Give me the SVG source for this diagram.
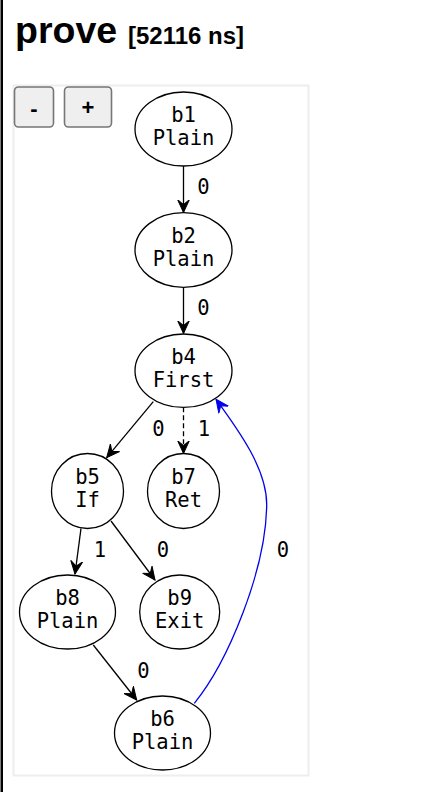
<svg xmlns="http://www.w3.org/2000/svg" width="434" height="792" viewBox="0 0 434 792">
<style>
.title{font-family:"Liberation Sans",Arial,sans-serif;font-weight:bold;fill:#000}
.btn rect{fill:#efefef;stroke:#767676;stroke-width:1.6}
.btn text{font-family:"Liberation Sans",Arial,sans-serif;font-weight:bold;font-size:22px;text-anchor:middle;fill:#000}
.node ellipse{fill:#fff;stroke:#000;stroke-width:1.3}
.node text,.lbl{font-family:"DejaVu Sans Mono",monospace;font-size:20.5px;text-anchor:middle;fill:#000}
.edge{fill:none;stroke:#000;stroke-width:1.3}
.back{fill:none;stroke:#0000ee;stroke-width:1.3}
</style>
<defs>
<marker id="ah" markerUnits="userSpaceOnUse" markerWidth="16" markerHeight="14" refX="13" refY="7" orient="auto" viewBox="0 0 16 14">
<path d="M0,1 L13,7 L0,13 L5,7 Z" fill="#000" stroke="#000" stroke-width="1"/>
</marker>
<marker id="ahb" markerUnits="userSpaceOnUse" markerWidth="16" markerHeight="14" refX="13" refY="7" orient="auto" viewBox="0 0 16 14">
<path d="M0,1 L13,7 L0,13 L5,7 Z" fill="#0000ee" stroke="#0000ee" stroke-width="1"/>
</marker>
</defs>
<rect x="0" y="0" width="434" height="792" fill="#fff"/>
<rect x="0.5" y="0" width="2.5" height="792" fill="#000"/>
<text class="title" x="15" y="43" font-size="37.5">prove</text>
<text class="title" x="128" y="44" font-size="24">[52116 ns]</text>
<rect x="13.5" y="85.5" width="295" height="690" fill="#fff" stroke="#eeeeee" stroke-width="2"/>
<g id="btn-minus" class="btn"><rect x="14.5" y="87" width="39" height="40" rx="4"/><text x="34" y="116">-</text></g>
<g id="btn-plus" class="btn"><rect x="64.5" y="87" width="47" height="40" rx="4"/><text x="88" y="115">+</text></g>
<g id="edges">
<line class="edge" x1="183.5" y1="166" x2="183.5" y2="212.5" marker-end="url(#ah)"/>
<line class="edge" x1="183.5" y1="287.3" x2="183.5" y2="333.5" marker-end="url(#ah)"/>
<line class="edge" x1="153.3" y1="401.7" x2="106.7" y2="457.7" marker-end="url(#ah)"/>
<line class="edge" x1="183.5" y1="407.3" x2="183.5" y2="453.5" stroke-dasharray="5,3" marker-end="url(#ah)"/>
<line class="edge" x1="81" y1="528.3" x2="75" y2="574" marker-end="url(#ah)"/>
<line class="edge" x1="111" y1="521" x2="155" y2="580" marker-end="url(#ah)"/>
<line class="edge" x1="93.3" y1="645" x2="136.7" y2="700" marker-end="url(#ah)"/>
<path class="back" d="M194.3,703.3 C228,662 266,570 266.7,505 C267,470 240,432 216,399.3" marker-end="url(#ahb)"/>
<text class="lbl" x="203.5" y="194">0</text>
<text class="lbl" x="203.5" y="315">0</text>
<text class="lbl" x="158.5" y="436">0</text>
<text class="lbl" x="204" y="436">1</text>
<text class="lbl" x="100" y="556.5">1</text>
<text class="lbl" x="163" y="556.5">0</text>
<text class="lbl" x="283" y="556.5">0</text>
<text class="lbl" x="143.5" y="677.5">0</text>
</g>
<g id="b1" class="node"><ellipse cx="183.5" cy="129" rx="48.5" ry="37"/><text x="183.5" y="122.3">b1</text><text x="183.5" y="145.3">Plain</text></g>
<g id="b2" class="node"><ellipse cx="183.5" cy="250" rx="48.5" ry="37.3"/><text x="183.5" y="243.3">b2</text><text x="183.5" y="266.3">Plain</text></g>
<g id="b4" class="node"><ellipse cx="183.5" cy="370.7" rx="48.5" ry="36.7"/><text x="183.5" y="364">b4</text><text x="183.5" y="387">First</text></g>
<g id="b5" class="node"><ellipse cx="87.5" cy="491" rx="36" ry="37.5"/><text x="87.5" y="484.3">b5</text><text x="87.5" y="507.3">If</text></g>
<g id="b7" class="node"><ellipse cx="183.5" cy="491" rx="36" ry="37.5"/><text x="183.5" y="484.3">b7</text><text x="183.5" y="507.3">Ret</text></g>
<g id="b8" class="node"><ellipse cx="67.5" cy="612" rx="48" ry="37"/><text x="67.5" y="605.3">b8</text><text x="67.5" y="628.3">Plain</text></g>
<g id="b9" class="node"><ellipse cx="179.7" cy="612" rx="40" ry="37"/><text x="179.7" y="605.3">b9</text><text x="179.7" y="628.3">Exit</text></g>
<g id="b6" class="node"><ellipse cx="162.5" cy="733" rx="48" ry="37"/><text x="162.5" y="726.3">b6</text><text x="162.5" y="749.3">Plain</text></g>
</svg>
